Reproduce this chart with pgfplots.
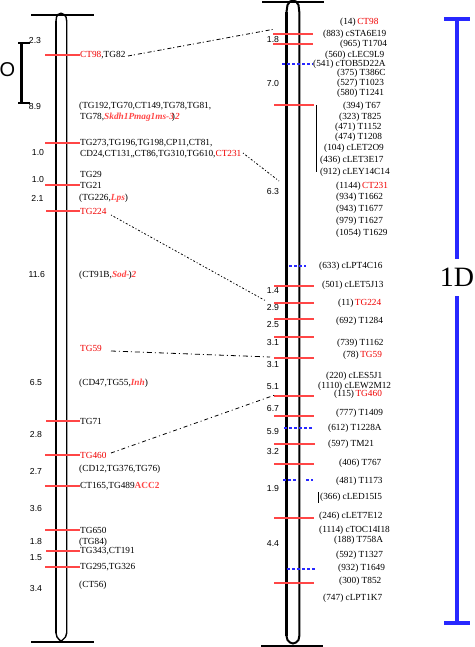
\documentclass[border=0pt]{standalone}
\usepackage{pgfplots}
\pgfplotsset{compat=1.18}
\usepackage{fontspec}
\setmainfont{Liberation Serif}
\newfontfamily\sansf{Liberation Sans}
\definecolor{tred}{RGB}{240,0,0}
\definecolor{lred}{RGB}{255,70,70}
\definecolor{bred}{RGB}{255,70,70}
\definecolor{mblue}{RGB}{40,40,255}
\newcommand\lf{\fontsize{9.3}{10}\selectfont}
\newcommand\nf{\sansf\fontsize{8.7}{10}\selectfont}
\newcommand\lab[3]{\node[anchor=west,inner sep=0pt,font=\lf] at (axis cs:#1,#2) {#3};}
\newcommand\num[3]{\node[anchor=center,inner sep=0pt,font=\nf] at (axis cs:#1,#2) {#3};}
\newcommand\R[1]{\textcolor{tred}{#1}}
\newcommand\I[1]{\textcolor{bred}{\bfseries\itshape #1}}
\newcommand\rt[3]{\addplot[lred,line width=1.3pt] coordinates {(#1,#3)(#2,#3)};}
\newcommand\bt[3]{\addplot[mblue,line width=1.3pt,dash pattern=on 3pt off 2pt] coordinates {(#1,#3)(#2,#3)};}
\begin{document}
\begin{tikzpicture}
\begin{axis}[width=474pt,height=647pt,scale only axis,hide axis,clip=false,
  xmin=0,xmax=474,ymin=0,ymax=647,y dir=reverse]
% ---------- left chromosome ----------
\addplot[black,line width=2.5pt] coordinates {(56,633)(56,21)};
\addplot[black,line width=1.4pt] coordinates {(56,21)(56.5,17)(58,14.5)(61,13.2)(64,14.5)(66,17)(66.7,21)(66.7,633)};
\addplot[black,line width=1.4pt] coordinates {(56,633)(57,637)(59.5,640)(61,641)(62.5,640)(65.5,637)(66.7,633)};
\addplot[black,line width=2.2pt] coordinates {(31,15)(94,15)};
\addplot[black,line width=2.2pt] coordinates {(31,642)(94,642)};
% bracket O
\addplot[black,line width=3pt] coordinates {(21,43)(21,103)};
\addplot[black,line width=2.5pt] coordinates {(18,43)(30,43)};
\addplot[black,line width=2.5pt] coordinates {(18,103)(30,103)};
\node[font=\sansf\fontsize{20}{20}\selectfont,inner sep=0pt] at (axis cs:7.5,70) {O};
% left ticks
\rt{45}{80}{55}
\rt{45}{80}{143}
\rt{45}{80}{185}
\rt{46}{80}{211}
\rt{46}{80}{421}
\rt{45}{80}{455}
\rt{45}{80}{486}
\rt{45}{80}{530}
\rt{46}{80}{551}
\rt{45}{80}{567}
% left numbers
\num{35}{41}{2.3}
\num{35}{107}{8.9}
\num{38}{153}{1.0}
\num{38}{180}{1.0}
\num{37.5}{198}{2.1}
\num{36.7}{275}{11.6}
\num{36}{383}{6.5}
\num{36}{435}{2.8}
\num{36}{471}{2.7}
\num{36}{508}{3.6}
\num{36}{541}{1.8}
\num{36}{558}{1.5}
\num{36}{588}{3.4}
% left labels
\lab{80}{55}{\R{CT98},TG82}
\lab{79}{106}{(TG192,TG70,CT149,TG78,TG81,}
\lab{80}{117}{TG78,\I{Skdh1Pmag1ms-3}\hspace{-2pt})\I{2}}
\lab{80}{143}{TG273,TG196,TG198,CP11,CT81,}
\lab{80}{154}{CD24,CT131,,CT86,TG310,TG610,\R{CT231}}
\lab{80}{174}{TG29}
\lab{80}{185}{TG21}
\lab{79}{198}{(TG226,\I{Lps})}
\lab{80}{211}{\R{TG224}}
\lab{79}{275}{(CT91B,\I{Sod-}\hspace{-1pt})\I{2}}
\lab{80}{348}{\R{TG59}}
\lab{79}{383}{(CD47,TG55,\I{Inh})}
\lab{80}{421}{TG71}
\lab{80}{455}{\R{TG460}}
\lab{79}{469}{(CD12,TG376,TG76)}
\lab{80}{486}{CT165,TG489\textcolor{bred}{\bfseries ACC2}}
\lab{80}{530}{TG650}
\lab{79}{542}{(TG84)}
\lab{80}{551}{TG343,CT191}
\lab{80}{567}{TG295,TG326}
\lab{79}{585}{(CT56)}
% ---------- right chromosome ----------
\addplot[black,line width=2.8pt] coordinates {(286.5,636)(286.5,12)};
\addplot[black,line width=2pt] coordinates {(286.5,12)(287.5,5)(290,1.5)(293,0.5)(296,1.5)(298.5,5)(299.3,12)(299.3,636)};
\addplot[black,line width=2pt] coordinates {(286.5,636)(287.5,640)(290,642.5)(293,643.5)(296,642.5)(298.5,640)(299.3,636)};
\addplot[black,line width=2.5pt] coordinates {(262,2)(324,2)};
\addplot[black,line width=2.8pt] coordinates {(261,646)(323,646)};
% right ticks
\rt{273}{313}{34}
\rt{273}{313}{44}
\rt{274}{314}{105}
\rt{274}{314}{286}
\rt{274}{314}{303}
\rt{274}{314}{319}
\rt{274}{314}{337}
\rt{274}{314}{358}
\rt{274}{314}{396}
\rt{274}{314}{416}
\rt{274}{315}{444}
\rt{274}{314}{464}
\rt{274}{314}{518}
\rt{274}{314}{583}
\bt{282}{313}{64}
\bt{289}{306}{266}
\bt{284}{312}{428}
\bt{283}{296}{480}
\bt{306}{313}{480}
\bt{287}{316}{569}
\addplot[black,line width=1pt] coordinates {(316,105)(316,172)};
\addplot[black,line width=1pt] coordinates {(318,492)(318,503)};
% right numbers
\num{273}{40}{1.8}
\num{273}{84}{7.0}
\num{273}{192}{6.3}
\num{273}{291}{1.4}
\num{273}{308}{2.9}
\num{273}{325}{2.5}
\num{273}{343}{3.1}
\num{273}{365}{3.1}
\num{273}{387}{5.1}
\num{273}{409}{6.7}
\num{273}{432}{5.9}
\num{273}{452}{3.2}
\num{273}{488}{1.9}
\num{273}{544}{4.4}
% right labels
\lab{340}{22}{(14)\,\R{CT98}}
\lab{323}{34}{(883) cSTA6E19}
\lab{340}{44}{(965) T1704}
\lab{325}{55}{(560) cLEC9L9}
\lab{313}{64}{(541) cTOB5D22A}
\lab{337}{73}{(375) T386C}
\lab{337}{83}{(527) T1023}
\lab{337}{93}{(580) T1241}
\lab{343}{106}{(394) T67}
\lab{339}{117}{(323) T825}
\lab{335}{127}{(471) T1152}
\lab{335}{137}{(474) T1208}
\lab{324}{148}{(104) cLET2O9}
\lab{320}{160}{(436) cLET3E17}
\lab{320}{172}{(912) cLEY14C14}
\lab{336}{186}{(1144)\,\R{CT231}}
\lab{336}{197}{(934) T1662}
\lab{336}{209}{(943) T1677}
\lab{336}{221}{(979) T1627}
\lab{336}{233}{(1054) T1629}
\lab{319}{266}{(633) cLPT4C16}
\lab{322}{285}{(501) cLET5J13}
\lab{338}{303}{(11)\,\R{TG224}}
\lab{336}{321}{(692) T1284}
\lab{337}{343}{(739) T1162}
\lab{343}{355}{(78)\,\R{TG59}}
\lab{326}{376}{(220) cLES5J1}
\lab{318}{386}{(1110) cLEW2M12}
\lab{334}{394}{(115)\,\R{TG460}}
\lab{336}{413}{(777) T1409}
\lab{328}{428}{(612) T1228A}
\lab{328}{444}{(597) TM21}
\lab{339}{463}{(406) T767}
\lab{336}{481}{(481) T1173}
\lab{320}{497}{(366) cLED15I5}
\lab{319}{516}{(246) cLET7E12}
\lab{319}{530}{(1114) cTOC14I18}
\lab{334}{540}{(188) T758A}
\lab{336}{555}{(592) T1327}
\lab{338}{568}{(932) T1649}
\lab{339}{581}{(300) T852}
\lab{323}{598}{(747) cLPT1K7}
% connectors
\addplot[black,line width=0.8pt,dash pattern=on 4pt off 2pt on 1pt off 3pt] coordinates {(128,56)(275,29)};
\addplot[black,line width=0.8pt,dash pattern=on 1pt off 2pt on 2pt off 2pt] coordinates {(243,153)(279,181)};
\addplot[black,line width=0.8pt,dash pattern=on 1pt off 2pt on 2pt off 2pt] coordinates {(111,215)(266,301)};
\addplot[black,line width=0.8pt,dash pattern=on 5pt off 3pt on 1pt off 3pt] coordinates {(111,351)(270,357)};
\addplot[black,line width=0.8pt,dash pattern=on 4pt off 3pt on 1pt off 3pt] coordinates {(111,453)(275,395)};
% ---------- 1D bar ----------
\addplot[mblue,line width=3.2pt] coordinates {(457,19)(457,259)};
\addplot[mblue,line width=3.2pt] coordinates {(457,296)(457,623)};
\addplot[mblue,line width=3.2pt] coordinates {(444,19)(470,19)};
\addplot[mblue,line width=3.2pt] coordinates {(444,623)(470,623)};
\node[font=\fontsize{28}{28}\selectfont,inner sep=0pt] at (axis cs:457,277) {1D};
\coordinate (sw) at (axis cs:0,647);
\coordinate (ne) at (axis cs:474,0);
\end{axis}
\pgfresetboundingbox
\path (sw) rectangle (ne);
\end{tikzpicture}
\end{document}
